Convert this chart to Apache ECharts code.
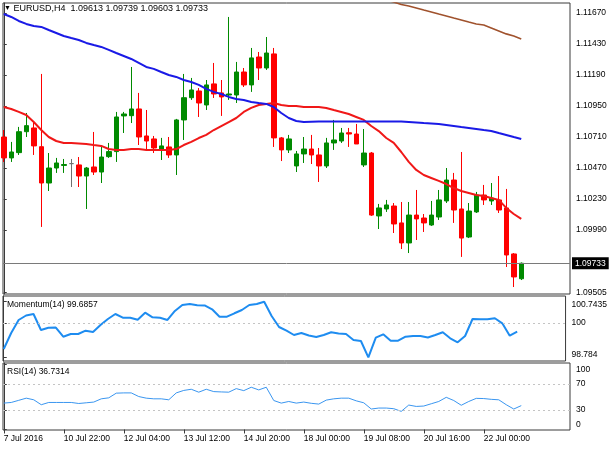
<!DOCTYPE html>
<html>
<head>
<meta charset="utf-8">
<script src="https://cdn.jsdelivr.net/npm/echarts@6/dist/echarts.min.js"></script>
<style>
  html, body { margin: 0; background: #fff; }
  #chart { width: 610px; height: 450px; }
</style>
</head>
<body>
<div id="chart"></div>
<script>
const symbol = 'EURUSD,H4'
const timeLabels = ['7 Jul 2016', '10 Jul 22:00', '12 Jul 04:00', '13 Jul 12:00', '14 Jul 20:00',
  '18 Jul 00:00', '19 Jul 08:00', '20 Jul 16:00', '22 Jul 00:00']
const labelStep = 8

const candleOpen = [1.10710, 1.10548, 1.10589, 1.10751, 1.10780, 1.10635, 1.10354, 1.10470, 1.10490, 1.10504,
  1.10494, 1.10408, 1.10478, 1.10439, 1.10558, 1.10597, 1.10873, 1.10875, 1.10927, 1.10718,
  1.10695, 1.10610, 1.10633, 1.10571, 1.10842, 1.11014, 1.11066, 1.10958, 1.11121, 1.11051,
  1.11035, 1.11035, 1.11213, 1.11113, 1.11329, 1.11244, 1.11353, 1.10703, 1.10610, 1.10486,
  1.10579, 1.10617, 1.10571, 1.10486, 1.10664, 1.10679, 1.10743, 1.10733, 1.10494, 1.10586,
  1.10099, 1.10153, 1.10176, 1.10045, 1.09890, 1.10106, 1.10083, 1.10029, 1.10091, 1.10215,
  1.10377, 1.10153, 1.09936, 1.10130, 1.10261, 1.10215, 1.10223, 1.10161, 1.09805, 1.09613]
const candleClose = [1.10548, 1.10594, 1.10751, 1.10798, 1.10641, 1.10354, 1.10470, 1.10509, 1.10497, 1.10504,
  1.10408, 1.10470, 1.10439, 1.10555, 1.10597, 1.10865, 1.10888, 1.10927, 1.10710, 1.10679,
  1.10625, 1.10641, 1.10571, 1.10842, 1.11014, 1.11074, 1.10973, 1.11113, 1.11043, 1.11020,
  1.11043, 1.11213, 1.11113, 1.11322, 1.11244, 1.11360, 1.10703, 1.10610, 1.10695, 1.10579,
  1.10617, 1.10571, 1.10486, 1.10664, 1.10687, 1.10741, 1.10733, 1.10656, 1.10586, 1.10106,
  1.10161, 1.10184, 1.10037, 1.09890, 1.10106, 1.10076, 1.10045, 1.10106, 1.10223, 1.10377,
  1.10145, 1.09928, 1.10137, 1.10261, 1.10223, 1.10238, 1.10145, 1.09797, 1.09627, 1.09733]
const candleLow = [1.10517, 1.10517, 1.10571, 1.10710, 1.10571, 1.10014, 1.10292, 1.10432, 1.10432, 1.10323,
  1.10323, 1.10153, 1.10416, 1.10354, 1.10548, 1.10517, 1.10741, 1.10818, 1.10648, 1.10617,
  1.10586, 1.10532, 1.10548, 1.10416, 1.10687, 1.10997, 1.10865, 1.10919, 1.11012, 1.10873,
  1.10997, 1.10973, 1.11097, 1.11059, 1.11151, 1.11229, 1.10633, 1.10524, 1.10586, 1.10439,
  1.10509, 1.10501, 1.10362, 1.10470, 1.10610, 1.10664, 1.10633, 1.10656, 1.10478, 1.10099,
  1.09998, 1.10130, 1.09967, 1.09843, 1.09812, 1.09913, 1.09975, 1.10022, 1.10068, 1.10199,
  1.10045, 1.09782, 1.09928, 1.10122, 1.10184, 1.10184, 1.10122, 1.09704, 1.09549, 1.09603]
const candleHigh = [1.10764, 1.10672, 1.10788, 1.10896, 1.10826, 1.11198, 1.10586, 1.10548, 1.10540, 1.10540,
  1.10555, 1.10478, 1.10749, 1.10633, 1.10664, 1.10904, 1.10904, 1.11252, 1.11051, 1.10919,
  1.10718, 1.10703, 1.10710, 1.10850, 1.11198, 1.11167, 1.11089, 1.11151, 1.11283, 1.11151,
  1.11639, 1.11291, 1.11244, 1.11399, 1.11368, 1.11484, 1.11399, 1.10710, 1.10726, 1.10602,
  1.10710, 1.10726, 1.10625, 1.10703, 1.10842, 1.10780, 1.10780, 1.10811, 1.10772, 1.10594,
  1.10192, 1.10223, 1.10199, 1.10207, 1.10207, 1.10300, 1.10114, 1.10215, 1.10300, 1.10470,
  1.10432, 1.10594, 1.10199, 1.10285, 1.10339, 1.10354, 1.10408, 1.10308, 1.09812, 1.09739]

// moving averages (red fast, blue mid, brown slow which only shows at the right)
const maFast = [1.10942, 1.10927, 1.10904, 1.10880, 1.10826, 1.10764, 1.10710, 1.10679, 1.10664, 1.10664,
  1.10660, 1.10656, 1.10648, 1.10641, 1.10617, 1.10610, 1.10610, 1.10617, 1.10617, 1.10610,
  1.10610, 1.10610, 1.10610, 1.10617, 1.10648, 1.10672, 1.10702, 1.10726, 1.10764, 1.10795,
  1.10826, 1.10857, 1.10904, 1.10935, 1.10958, 1.10966, 1.10973, 1.10958, 1.10950, 1.10950,
  1.10942, 1.10942, 1.10942, 1.10935, 1.10919, 1.10904, 1.10888, 1.10865, 1.10842, 1.10795,
  1.10756, 1.10702, 1.10664, 1.10594, 1.10517, 1.10455, 1.10416, 1.10393, 1.10370, 1.10346,
  1.10315, 1.10292, 1.10277, 1.10261, 1.10254, 1.10238, 1.10223, 1.10161, 1.10114, 1.10076]
const maMid = [1.11662, 1.11639, 1.11608, 1.11585, 1.11569, 1.11562, 1.11538, 1.11515, 1.11492, 1.11476,
  1.11461, 1.11438, 1.11422, 1.11407, 1.11384, 1.11360, 1.11337, 1.11314, 1.11283, 1.11252,
  1.11237, 1.11213, 1.11190, 1.11175, 1.11151, 1.11136, 1.11113, 1.11082, 1.11059, 1.11043,
  1.11020, 1.11004, 1.10997, 1.10981, 1.10973, 1.10966, 1.10942, 1.10896, 1.10857, 1.10834,
  1.10826, 1.10828, 1.10830, 1.10830, 1.10830, 1.10830, 1.10830, 1.10830, 1.10830, 1.10830,
  1.10830, 1.10830, 1.10830, 1.10830, 1.10826, 1.10822, 1.10818, 1.10815, 1.10811, 1.10803,
  1.10795, 1.10787, 1.10780, 1.10772, 1.10764, 1.10757, 1.10741, 1.10726, 1.10710, 1.10695]
const maSlowStart = 51
const maSlow = [1.11771, 1.11755, 1.11736, 1.11724, 1.11709, 1.11693, 1.11678, 1.11662, 1.11647, 1.11631,
  1.11616, 1.11600, 1.11585, 1.11577, 1.11554, 1.11531, 1.11508, 1.11492, 1.11469]

const momentum = [99.077, 99.640, 100.099, 100.257, 100.310, 99.746, 99.827, 99.834, 99.510, 99.605,
  99.605, 99.722, 99.676, 99.922, 100.134, 100.310, 100.180, 100.180, 100.109, 100.356,
  100.194, 100.180, 100.099, 100.416, 100.627, 100.662, 100.617, 100.610, 100.476, 100.215,
  100.215, 100.335, 100.451, 100.627, 100.662, 100.7435, 100.240, 99.852, 99.722, 99.570,
  99.640, 99.552, 99.500, 99.570, 99.665, 99.623, 99.605, 99.394, 99.359, 98.784,
  99.475, 99.595, 99.369, 99.369, 99.510, 99.535, 99.535, 99.482, 99.570, 99.665,
  99.454, 99.313, 99.535, 100.134, 100.123, 100.123, 100.159, 99.982, 99.545, 99.6857]
const rsi = [40.6, 41.6, 44.9, 48.2, 45.7, 38.1, 41.6, 41.6, 41.6, 41.6,
  40.0, 41.1, 42.2, 47.2, 48.7, 55.9, 56.3, 56.3, 50.7, 48.2,
  47.2, 47.2, 45.7, 56.3, 60.1, 61.9, 57.4, 61.9, 58.3, 57.8,
  57.4, 62.9, 59.8, 65.0, 60.9, 65.0, 44.6, 40.6, 43.1, 40.6,
  42.2, 40.3, 39.1, 45.2, 47.2, 48.2, 48.2, 44.1, 41.1, 31.5,
  33.0, 33.0, 32.0, 27.9, 37.6, 35.5, 36.1, 39.6, 43.1, 49.5,
  44.6, 37.3, 43.1, 47.9, 47.6, 46.4, 45.7, 38.1, 31.5, 36.7314]

const priceTicks = [1.09505, 1.09990, 1.10230, 1.10470, 1.10710, 1.10950, 1.11190, 1.11430, 1.11670]
const momTicks = [98.784, 100, 100.7435]
const momLevels = [100]
const rsiTicks = [0, 30, 70, 100]
const rsiLevels = [30, 70]

const font = 'Liberation Sans, Arial, sans-serif'
const frame = '#3a3a3a'
const green = '#008a00'
const red = '#ff0000'
const last = candleOpen.length - 1
const lastClose = candleClose[last]

const candles = candleOpen.map((o, i) => [i, o, candleClose[i], candleLow[i], candleHigh[i]])
function pts(values, start) {
  return values.map((v, i) => [start + i, v])
}
function levelLine(levels) {
  return {
    silent: true, symbol: 'none', label: {show: false}, precision: 4,
    lineStyle: {color: '#c4c4c4', type: [2, 3], width: 1},
    data: levels.map(v => ({yAxis: v}))
  }
}

const header = symbol + '  ' + [candleOpen[last], candleHigh[last], candleLow[last], lastClose]
  .map(v => v.toFixed(5)).join(' ')

const chart = echarts.init(document.getElementById('chart'))

const xAxes = [0, 1, 2].map(g => ({
  type: 'value', gridIndex: g, min: -0.1, max: 75.5,
  axisLine: {show: false},
  splitLine: {show: false},
  axisTick: {
    show: g === 2, inside: false, length: 4,
    lineStyle: {color: frame},
    customValues: timeLabels.map((t, i) => i * labelStep)
  },
  axisLabel: {
    show: g === 2, align: 'left', margin: 4, fontSize: 8.5, color: '#000', fontFamily: font,
    customValues: timeLabels.map((t, i) => i * labelStep),
    formatter: v => timeLabels[Math.round(v / labelStep)]
  }
}))

function yAxis(g, min, max, ticks, fmt, rich) {
  return {
    type: 'value', gridIndex: g, position: 'right', min: min, max: max, scale: true,
    axisLine: {show: true, lineStyle: {color: frame, width: 1}},
    splitLine: {show: false},
    axisTick: {show: true, length: 3, lineStyle: {color: frame}, customValues: ticks},
    axisLabel: {
      show: true, margin: 6, fontSize: 8.5, color: '#000', fontFamily: font,
      customValues: ticks, formatter: fmt, rich: rich
    }
  }
}

// top / bottom labels of the sub windows sit a little inward
const momLab = v => v === 100.7435 ? '{up|' + v + '}' : v === 98.784 ? '{dn|' + v + '}' : String(v)
const rsiLab = v => v === 100 ? '{up|' + v + '}' : v === 0 ? '{dn|' + v + '}' : String(v)

chart.setOption({
  animation: false,
  backgroundColor: '#fff',
  textStyle: {fontFamily: font},
  title: [
    {
      text: '{tri|▼} ' + header, left: 4, top: 4, padding: 0,
      textStyle: {fontSize: 9, fontWeight: 'normal', color: '#000', fontFamily: font,
        rich: {tri: {fontSize: 7, color: '#000', fontFamily: font}}}
    },
    {
      text: 'Momentum(14) ' + momentum[last].toFixed(4), left: 7, top: 300, padding: 0,
      textStyle: {fontSize: 8.5, fontWeight: 'normal', color: '#000', fontFamily: font}
    },
    {
      text: 'RSI(14) ' + rsi[last].toFixed(4), left: 7, top: 367, padding: 0,
      textStyle: {fontSize: 8.5, fontWeight: 'normal', color: '#000', fontFamily: font}
    }
  ],
  grid: [
    {left: 3, top: 3, width: 567, height: 291, show: true, borderColor: frame, borderWidth: 1, backgroundColor: '#fff'},
    {left: 3, top: 296, width: 567, height: 65, show: true, borderColor: frame, borderWidth: 1, backgroundColor: '#fff'},
    {left: 3, top: 363, width: 567, height: 67, show: true, borderColor: frame, borderWidth: 1, backgroundColor: '#fff'}
  ],
  xAxis: xAxes,
  yAxis: [
    yAxis(0, 1.09495, 1.11747, priceTicks, v => v.toFixed(5)),
    yAxis(1, 98.654, 100.944, momTicks, momLab,
      {up: {padding: [5, 0, 0, 0]}, dn: {padding: [0, 0, 5, 0]}}),
    yAxis(2, -0.77, 102.3, rsiTicks, rsiLab,
      {up: {padding: [11, 0, 0, 0]}, dn: {padding: [0, 0, 10, 0]}})
  ],
  series: [
    {
      type: 'candlestick', xAxisIndex: 0, yAxisIndex: 0,
      data: candles, encode: {x: 0, y: [1, 2, 3, 4]},
      barWidth: 5, clip: true,
      itemStyle: {
        color: green, color0: red, borderColor: green, borderColor0: red,
        borderColorDoji: '#707070', borderWidth: 1
      }
    },
    {
      type: 'line', xAxisIndex: 0, yAxisIndex: 0, data: pts(maFast, 0), showSymbol: false,
      lineStyle: {color: '#f01818', width: 2}, z: 3,
      markLine: {
        silent: true, symbol: 'none', precision: 5,
        lineStyle: {color: '#7a7a7a', type: 'solid', width: 1},
        label: {
          show: true, position: 'end', distance: 2,
          formatter: lastClose.toFixed(5),
          color: '#fff', backgroundColor: '#000', padding: [2, 3, 1, 3],
          fontSize: 8.5, fontFamily: font
        },
        data: [{yAxis: lastClose}]
      }
    },
    {type: 'line', xAxisIndex: 0, yAxisIndex: 0, data: pts(maMid, 0), showSymbol: false,
      lineStyle: {color: '#1a1ae6', width: 2}, z: 3},
    {type: 'line', xAxisIndex: 0, yAxisIndex: 0, data: pts(maSlow, maSlowStart), showSymbol: false,
      lineStyle: {color: '#a0522d', width: 1.6}, z: 3},
    {type: 'line', xAxisIndex: 1, yAxisIndex: 1, data: pts(momentum, 0), showSymbol: false,
      lineStyle: {color: '#1e8cf0', width: 2}, markLine: levelLine(momLevels)},
    {type: 'line', xAxisIndex: 2, yAxisIndex: 2, data: pts(rsi, 0), showSymbol: false,
      lineStyle: {color: '#3a96f0', width: 1}, markLine: levelLine(rsiLevels)}
  ]
})
</script>
</body>
</html>
